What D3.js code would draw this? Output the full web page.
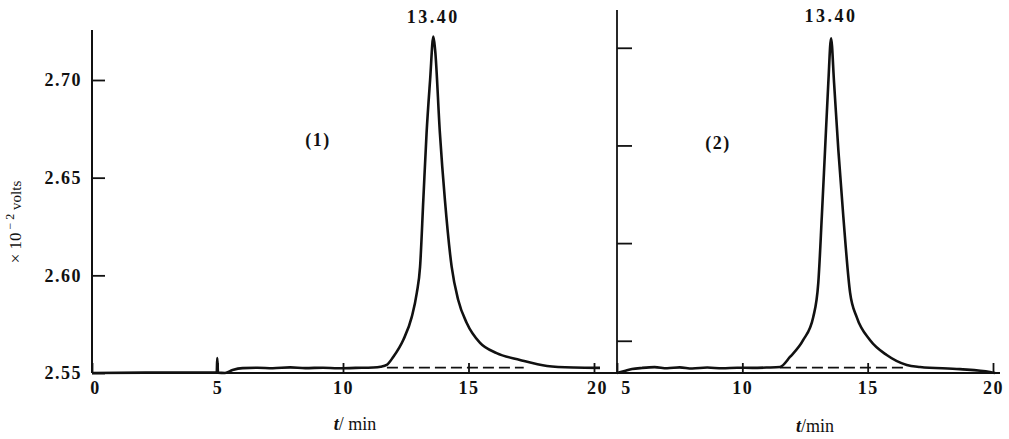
<!DOCTYPE html>
<html>
<head>
<meta charset="utf-8">
<script src="https://cdn.jsdelivr.net/npm/d3@7"></script>
<style>
  html, body { margin: 0; padding: 0; background: #fff; }
  svg { display: block; }
  text { font-family: "Liberation Serif", "DejaVu Serif", serif; fill: #111; }
</style>
</head>
<body>
<svg id="chart" width="1009" height="439"></svg>
<script>
// ----------------------------
// Data
// ----------------------------
const xTicks1 = [0, 5, 10, 15, 20];
const xTicks2 = [5, 10, 15, 20];
const yTicks1 = [2.55, 2.60, 2.65, 2.70];
const yTicks2 = [2.5665, 2.6165, 2.6665, 2.7165]; // unlabelled ticks of panel (2)
const peakLabel = "13.40";
const panelLabels = ["(1)", "(2)"];

// [t (min), signal (x10^-2 V)]
const trace1 = [
  [0, 2.5500], [2.8, 2.5502], [4.97, 2.5502], [4.99, 2.5577], [5.02, 2.5502],
  [5.3, 2.5500], [5.6, 2.5515], [6.0, 2.5525], [6.6, 2.5527], [7.2, 2.5524],
  [7.9, 2.5529], [8.5, 2.5525], [9.2, 2.5527], [9.8, 2.5524], [10.5, 2.5526],
  [11.2, 2.5528], [11.5, 2.5532], [11.74, 2.5541], [12.00, 2.5582], [12.40, 2.5669],
  [12.74, 2.5787], [12.94, 2.5910], [13.07, 2.6043], [13.20, 2.6386], [13.33, 2.6729],
  [13.47, 2.7000], [13.60, 2.7222], [13.67, 2.7154], [13.86, 2.6729], [14.06, 2.6386],
  [14.33, 2.6043], [14.59, 2.5874], [14.93, 2.5756], [15.46, 2.5654], [16.12, 2.5602],
  [17.05, 2.5567], [18.13, 2.5536], [19.2, 2.5528], [20.24, 2.5526]
];

const trace2 = [
  [5.0, 2.5500], [5.3, 2.5510], [5.6, 2.5520], [6.0, 2.5526], [6.5, 2.5530],
  [7.0, 2.5524], [7.5, 2.5529], [8.0, 2.5523], [8.6, 2.5528], [9.2, 2.5524],
  [9.8, 2.5527], [10.4, 2.5526], [11.0, 2.5528], [11.50, 2.5531], [11.90, 2.5582],
  [12.43, 2.5669], [12.83, 2.5787], [13.03, 2.5961], [13.17, 2.6299], [13.30, 2.6642],
  [13.43, 2.6985], [13.54, 2.7214], [13.66, 2.6985], [13.83, 2.6642], [14.03, 2.6299],
  [14.30, 2.5910], [14.56, 2.5787], [15.09, 2.5669], [15.76, 2.5592], [16.56, 2.5541],
  [17.09, 2.5531], [18.68, 2.5520], [19.88, 2.5505], [20.08, 2.5500]
];

// dashed peak baselines
const base1 = [[11.75, 2.5528], [17.2, 2.5528]];
const base2 = [[11.5, 2.5528], [16.6, 2.5528]];

// ----------------------------
// Plotting
// ----------------------------
const svg = d3.select("#chart");
const baseY = 373;
const x1 = d3.scaleLinear().domain([0, 20]).range([92, 594]);
const x2 = d3.scaleLinear().domain([5, 20]).range([617, 993]);
const y = d3.scaleLinear().domain([2.55, 2.70]).range([baseY, 80]);

const ink = "#111";

// continuous bottom axis line running under both panels
svg.append("line")
    .attr("x1", x1(0)).attr("x2", 1000)
    .attr("y1", baseY).attr("y2", baseY)
    .attr("stroke", ink).attr("stroke-width", 2);

// vertical axis lines
svg.append("line")
    .attr("x1", x1(0)).attr("x2", x1(0))
    .attr("y1", 30).attr("y2", baseY)
    .attr("stroke", ink).attr("stroke-width", 2);
svg.append("line")
    .attr("x1", x2(5)).attr("x2", x2(5))
    .attr("y1", 10).attr("y2", baseY)
    .attr("stroke", ink).attr("stroke-width", 1.8);

function styleAxis(sel) {
  sel.select(".domain").remove();
  sel.selectAll(".tick line").attr("stroke", ink).attr("stroke-width", 1.8);
  sel.selectAll(".tick text")
      .attr("fill", ink)
      .style("font-family", '"Liberation Serif", serif')
      .style("font-size", "18px")
      .style("font-weight", "bold")
      .style("letter-spacing", "1.5px");
}

// y axes
svg.append("g")
    .attr("transform", `translate(${x1(0)},0)`)
    .call(d3.axisLeft(y).tickValues(yTicks1).tickSizeInner(-13).tickSizeOuter(0)
      .tickPadding(10).tickFormat(d3.format(".2f")))
    .call(styleAxis);

svg.append("g")
    .attr("transform", `translate(${x2(5)},0)`)
    .call(d3.axisLeft(y).tickValues(yTicks2).tickSizeInner(-15).tickSizeOuter(0)
      .tickFormat(() => ""))
    .call(styleAxis);

// x axes, ticks pointing inward
svg.append("g")
    .attr("transform", `translate(0,${baseY})`)
    .call(d3.axisBottom(x1).tickValues(xTicks1).tickSizeInner(-10).tickSizeOuter(0)
      .tickPadding(8).tickFormat(d3.format("d")))
    .call(styleAxis)
    .call(g => g.selectAll(".tick text").attr("dx", (d, i) => i === 0 ? 3 : (i === 4 ? 3 : 0)));

svg.append("g")
    .attr("transform", `translate(0,${baseY})`)
    .call(d3.axisBottom(x2).tickValues(xTicks2).tickSizeInner(-10).tickSizeOuter(0)
      .tickPadding(8).tickFormat(d3.format("d")))
    .call(styleAxis)
    .call(g => g.selectAll(".tick text").attr("dx", (d, i) => i === 0 ? 9 : 0));

// traces
const line1 = d3.line().x(d => x1(d[0])).y(d => y(d[1])).curve(d3.curveMonotoneX);
const line2 = d3.line().x(d => x2(d[0])).y(d => y(d[1])).curve(d3.curveMonotoneX);

svg.append("path").datum(base1)
    .attr("d", d3.line().x(d => x1(d[0])).y(d => y(d[1])))
    .attr("fill", "none").attr("stroke", ink).attr("stroke-width", 1.8)
    .attr("stroke-dasharray", "11,5");
svg.append("path").datum(base2)
    .attr("d", d3.line().x(d => x2(d[0])).y(d => y(d[1])))
    .attr("fill", "none").attr("stroke", ink).attr("stroke-width", 1.8)
    .attr("stroke-dasharray", "11,5");

svg.append("path").datum(trace1)
    .attr("d", line1)
    .attr("fill", "none").attr("stroke", ink).attr("stroke-width", 2.6)
    .attr("stroke-linejoin", "round");
svg.append("path").datum(trace2)
    .attr("d", line2)
    .attr("fill", "none").attr("stroke", ink).attr("stroke-width", 2.6)
    .attr("stroke-linejoin", "round");

// peak labels
const peak1 = trace1.reduce((a, b) => b[1] > a[1] ? b : a);
const peak2 = trace2.reduce((a, b) => b[1] > a[1] ? b : a);
[[x1(peak1[0]), 23], [x2(peak2[0]), 22]].forEach(([px, py]) => {
  svg.append("text")
      .attr("x", px).attr("y", py)
      .attr("text-anchor", "middle")
      .style("font-size", "18px").style("font-weight", "bold")
      .style("letter-spacing", "2.5px")
      .text(peakLabel);
});

// panel labels
svg.append("text").attr("x", 318).attr("y", 146).attr("text-anchor", "middle")
    .style("font-size", "18px").style("font-weight", "bold").style("letter-spacing", "1.5px")
    .text(panelLabels[0]);
svg.append("text").attr("x", 718).attr("y", 149).attr("text-anchor", "middle")
    .style("font-size", "18px").style("font-weight", "bold").style("letter-spacing", "1.5px")
    .text(panelLabels[1]);

// y axis title
const yt = svg.append("text")
    .attr("transform", "translate(21,222) rotate(-90)")
    .attr("text-anchor", "middle");
yt.append("tspan").style("font-size", "17px").text("× 10");
yt.append("tspan").attr("dy", -7).style("font-size", "12px").text(" − 2");
yt.append("tspan").attr("dy", 7).style("font-size", "15px").text(" volts");

// x axis titles
function xTitle(cx, cy, sep) {
  const t = svg.append("text").attr("x", cx).attr("y", cy).attr("text-anchor", "middle")
      .style("font-size", "18px");
  t.append("tspan").style("font-style", "italic").style("font-weight", "bold").text("t");
  t.append("tspan").text(sep + "min");
}
xTitle(355, 430, "/ ");
xTitle(815, 432, "/");
</script>
</body>
</html>
